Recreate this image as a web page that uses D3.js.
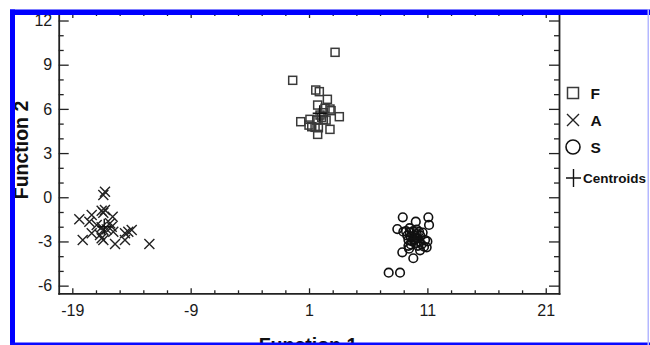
<!DOCTYPE html>
<meta charset="utf-8">
<style>
    body { margin: 0; background: #fff; }
    svg { display: block; font-family: Arial, "Liberation Sans", sans-serif; }
    .axis path, .axis line { stroke: #222; }
    .axis path { stroke-width: 1.8px; }
    .axis line { stroke-width: 1.3px; }
    .axis text { font-size: 16px; fill: #1a1a1a; }
    .title { font-size: 19.5px; font-weight: bold; fill: #111; }
    .sq { fill: none; stroke: #3a3a3a; stroke-width: 1.5px; }
    .cr { fill: none; stroke: #222; stroke-width: 1.4px; }
    .ci { fill: none; stroke: #111; stroke-width: 1.6px; }
    .ce { fill: none; stroke: #111; stroke-width: 1.4px; }
    .leg text { font-weight: bold; fill: #111; }
</style>
<body>
<script src="https://cdn.jsdelivr.net/npm/d3@7"></script>
<script>

    // group F (squares)
    var fPoints = [
        [3.2, 9.84], [-0.38, 7.94], [1.57, 7.28], [1.87, 7.17], [2.55, 6.65],
        [1.73, 6.26], [2.77, 5.99], [2.21, 5.74], [1.93, 5.58], [2.86, 5.88],
        [3.56, 5.47], [0.3, 5.13], [1.08, 5.29], [1.65, 5.24], [2.21, 5.29],
        [1.23, 4.79], [1.51, 4.75], [1.79, 4.72], [2.77, 4.61], [1.73, 4.27],
        [2.44, 5.24], [2.07, 5.43], [2.35, 6.04], [1.0, 4.9]
    ];

    // group A (crosses)
    var aPoints = [
        [-16.38, 0.15], [-16.24, 0.38], [-18.41, -1.5], [-17.36, -1.2], [-17.56, -1.66],
        [-16.52, -0.91], [-16.24, -0.86], [-16.38, -1.05], [-15.59, -1.32], [-16.94, -1.88],
        [-16.52, -2.04], [-16.38, -2.22], [-16.09, -2.18], [-16.66, -2.56], [-17.36, -2.45],
        [-18.12, -2.9], [-16.52, -2.79], [-15.54, -2.34], [-15.67, -2.0], [-15.39, -3.17],
        [-14.55, -2.45], [-14.27, -2.34], [-13.98, -2.22], [-14.55, -2.9], [-12.49, -3.17],
        [-16.38, -2.9], [-15.81, -1.77]
    ];

    // group S (circles)
    var sPoints = [
        [8.92, -1.36], [10.02, -1.66], [11.08, -1.36], [11.14, -1.88], [8.46, -2.16],
        [8.97, -2.34], [8.88, -3.74], [9.81, -4.14], [10.72, -3.36], [10.94, -3.4],
        [7.73, -5.12], [8.69, -5.12], [9.45, -3.49], [10.38, -3.6], [10.8, -2.9],
        [11.0, -3.0], [9.5, -2.4], [9.8, -2.3], [10.1, -2.5], [9.6, -2.7],
        [9.9, -2.6], [10.2, -2.8], [9.4, -2.9], [9.7, -3.0], [10.0, -3.1],
        [10.3, -3.0], [9.9, -2.9], [10.4, -2.6], [9.3, -2.6], [10.1, -2.2],
        [9.6, -3.2], [10.0, -2.75], [9.8, -2.85], [10.5, -3.2], [9.5, -2.1],
        [10.2, -3.3], [9.2, -2.3], [10.6, -2.4], [9.4, -3.3], [10.3, -2.35]
    ];

    var centroids = [[1.9, 5.7], [-16.3, -2.0], [9.9, -2.8]];

    var xMajor = [-19, -9, 1, 11, 21],
        xMinor = d3.range(-19, 22, 2),
        yMajor = [-6, -3, 0, 3, 6, 9, 12],
        yMinor = d3.range(-6, 13, 1);

    var legendItems = ["F", "A", "S", "Centroids"];

    var width = 650, height = 345;

    var x = d3.scaleLinear().domain([-20.15, 22.12]).range([58.7, 559]),
        y = d3.scaleLinear().domain([-6.52, 12.51]).range([293.3, 13]);

    var svg = d3.select("body").append("svg")
        .attr("width", width)
        .attr("height", height);

    function fmt(v) { return String(v); }

    // axes: all ticks inward, majors longer
    function styleTicks(g, majors, longLen, shortLen, horiz) {
        g.selectAll(".tick").each(function(d) {
            var big = majors.indexOf(d) >= 0;
            var t = d3.select(this);
            var len = big ? longLen : shortLen;
            if (horiz) t.select("line").attr("y2", len);
            else t.select("line").attr("x2", len);
            if (!big) t.select("text").remove();
        });
        g.select(".domain").attr("stroke-linecap", "square");
    }

    var gx = svg.append("g").attr("class", "axis")
        .attr("transform", "translate(0," + y.range()[0] + ")")
        .call(d3.axisBottom(x).tickValues(xMinor).tickSizeOuter(0).tickSizeInner(-5).tickPadding(11).tickFormat(fmt));
    styleTicks(gx, xMajor, -5, -3, true);

    var gxt = svg.append("g").attr("class", "axis")
        .attr("transform", "translate(0," + y.range()[1] + ")")
        .call(d3.axisTop(x).tickValues(xMinor).tickSizeOuter(0).tickSizeInner(-5).tickFormat(""));
    styleTicks(gxt, xMajor, 5, 3, true);

    var gy = svg.append("g").attr("class", "axis")
        .attr("transform", "translate(" + x.range()[0] + ",0)")
        .call(d3.axisLeft(y).tickValues(yMinor).tickSizeOuter(0).tickSizeInner(-10).tickPadding(6.5).tickFormat(fmt));
    styleTicks(gy, yMajor, 10, 5, false);

    var gyr = svg.append("g").attr("class", "axis")
        .attr("transform", "translate(" + x.range()[1] + ",0)")
        .call(d3.axisRight(y).tickValues(yMinor).tickSizeOuter(0).tickSizeInner(-10).tickFormat(""));
    styleTicks(gyr, yMajor, -10, -5, false);

    // markers
    var sq = 8, cx = 5, cr = 4.3;

    svg.append("g").selectAll("rect")
        .data(fPoints)
        .enter().append("rect")
        .attr("class", "sq")
        .attr("x", function(d) { return x(d[0]) - sq / 2; })
        .attr("y", function(d) { return y(d[1]) - sq / 2; })
        .attr("width", sq)
        .attr("height", sq);

    svg.append("g").selectAll("path")
        .data(aPoints)
        .enter().append("path")
        .attr("class", "cr")
        .attr("d", function(d) {
            var px = x(d[0]), py = y(d[1]);
            return "M" + (px - cx) + "," + (py - cx) + "L" + (px + cx) + "," + (py + cx) +
                   "M" + (px - cx) + "," + (py + cx) + "L" + (px + cx) + "," + (py - cx);
        });

    svg.append("g").selectAll("circle")
        .data(sPoints)
        .enter().append("circle")
        .attr("class", "ci")
        .attr("cx", function(d) { return x(d[0]); })
        .attr("cy", function(d) { return y(d[1]); })
        .attr("r", cr);

    svg.append("g").selectAll("path")
        .data(centroids)
        .enter().append("path")
        .attr("class", "ce")
        .attr("d", function(d) {
            var px = x(d[0]), py = y(d[1]);
            return "M" + (px - 7) + "," + py + "H" + (px + 7) + "M" + px + "," + (py - 8) + "V" + (py + 8);
        });

    // legend
    var legY = [93, 120, 147, 178];
    var leg = svg.append("g").attr("class", "leg");
    leg.append("rect").attr("class", "sq").attr("x", 567.5).attr("y", legY[0] - 5.5).attr("width", 11).attr("height", 11);
    leg.append("path").attr("class", "cr")
        .attr("d", "M567," + (legY[1] - 6) + "L579," + (legY[1] + 6) + "M567," + (legY[1] + 6) + "L579," + (legY[1] - 6));
    leg.append("circle").attr("class", "ci").attr("cx", 573).attr("cy", legY[2]).attr("r", 7);
    leg.append("path").attr("class", "ce")
        .attr("d", "M566," + legY[3] + "H581M573.5," + (legY[3] - 9) + "V" + (legY[3] + 9));
    leg.selectAll("text")
        .data(legendItems)
        .enter().append("text")
        .attr("x", function(d, i) { return i < 3 ? 590.5 : 583; })
        .attr("y", function(d, i) { return legY[i]; })
        .attr("dy", "0.36em")
        .style("font-size", function(d, i) { return i < 3 ? "15.5px" : "13.5px"; })
        .text(function(d) { return d; });

    // titles
    svg.append("text").attr("class", "title")
        .attr("text-anchor", "middle")
        .attr("transform", "translate(28,150)rotate(-90)")
        .text("Function 2");
    svg.append("text").attr("class", "title")
        .attr("text-anchor", "middle")
        .attr("x", 308).attr("y", 351.5)
        .text("Function 1");

    // blue frame
    svg.append("rect").attr("x", 10).attr("y", 9.5).attr("width", 5).attr("height", 336).attr("fill", "#0000ff");
    svg.append("rect").attr("x", 10).attr("y", 9.5).attr("width", 640).attr("height", 5.5).attr("fill", "#0000ff");
    svg.append("rect").attr("x", 10).attr("y", 342.5).attr("width", 640).attr("height", 2.5).attr("fill", "#0a0aff");
    svg.append("rect").attr("x", 647.5).attr("y", 9.5).attr("width", 1.5).attr("height", 336).attr("fill", "#b4b8ff");

</script>
</body>
</html>
